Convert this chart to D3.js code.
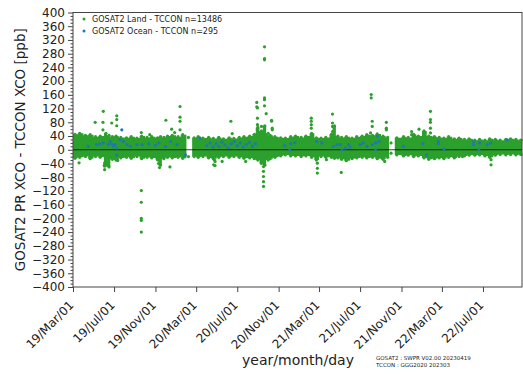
<!DOCTYPE html>
<html>
<head>
<meta charset="utf-8">
<script src="https://cdn.jsdelivr.net/npm/d3@7/dist/d3.min.js"></script>
<style>
  body { margin: 0; background: #fff; }
  svg { display: block; font-family: "DejaVu Sans", sans-serif; }
</style>
</head>
<body>
<svg id="chart" width="523" height="374"></svg>
<script>
// dense land band: upper / lower edge of the cloud of points (null = no data)
var bandDates = ["2019-03-01","2019-03-15","2019-04-01","2019-04-15","2019-05-01","2019-05-15","2019-06-01","2019-06-10","2019-06-20","2019-07-01","2019-07-15","2019-08-01","2019-08-15","2019-09-01","2019-09-15","2019-10-01","2019-10-15","2019-11-01","2019-11-10","2019-11-20","2019-12-01","2019-12-15","2020-01-01","2020-01-15","2020-02-01","2020-02-05","2020-02-18","2020-03-01","2020-03-15","2020-04-01","2020-04-15","2020-05-01","2020-05-15","2020-06-01","2020-06-15","2020-07-01","2020-07-15","2020-08-01","2020-08-15","2020-08-25","2020-09-05","2020-09-15","2020-09-25","2020-10-01","2020-10-15","2020-11-01","2020-11-15","2020-12-01","2020-12-15","2021-01-01","2021-01-15","2021-02-01","2021-02-15","2021-03-01","2021-03-15","2021-04-01","2021-04-10","2021-04-20","2021-05-01","2021-05-15","2021-06-01","2021-06-15","2021-07-01","2021-07-15","2021-08-01","2021-08-15","2021-09-01","2021-09-15","2021-09-25","2021-10-01","2021-10-12","2021-11-01","2021-11-15","2021-12-01","2021-12-15","2022-01-01","2022-01-15","2022-02-01","2022-02-15","2022-03-01","2022-03-15","2022-04-01","2022-04-15","2022-05-01","2022-05-15","2022-06-01","2022-06-15","2022-07-01","2022-07-15","2022-08-01","2022-08-15","2022-09-01","2022-09-15","2022-10-01","2022-10-15","2022-10-25"];
var bandTop = [45,48,42,44,38,40,48,42,38,40,36,35,38,34,40,36,38,35,38,36,40,42,38,44,36,null,35,38,34,36,33,36,32,35,33,36,38,40,45,65,55,70,48,42,38,35,34,38,40,36,40,48,35,34,36,45,70,40,36,38,34,38,40,44,42,46,40,36,20,null,35,38,36,45,40,55,40,38,36,34,38,32,34,30,32,28,30,28,32,30,28,30,32,30,28,28];
var bandBot = [-25,-22,-20,-26,-20,-22,-45,-50,-28,-30,-24,-22,-25,-20,-26,-22,-24,-28,-45,-26,-22,-24,-22,-25,-20,null,-20,-22,-20,-24,-26,-22,-20,-22,-20,-22,-25,-24,-26,-30,-40,-45,-30,-26,-22,-18,-15,-18,-18,-20,-18,-22,-30,-20,-22,-22,-25,-24,-28,-32,-26,-24,-22,-24,-22,-26,-28,-22,-10,null,-15,-18,-16,-20,-18,-24,-28,-26,-24,-26,-22,-24,-20,-18,-16,-16,-15,-18,-22,-16,-14,-15,-14,-15,-14,-14];

// land points outside the dense band
var landDates = ["2019-03-19","2019-05-06","2019-05-30","2019-05-29","2019-05-29","2019-06-03","2019-06-03","2019-06-03","2019-06-02","2019-06-24","2019-07-09","2019-07-09","2019-07-09","2019-07-12","2019-09-20","2019-09-20","2019-09-20","2019-09-20","2019-09-20","2019-09-20","2019-10-15","2019-11-08","2019-11-10","2019-11-13","2019-12-02","2019-12-05","2019-12-14","2020-01-13","2020-01-13","2020-01-13","2020-01-13","2019-12-19","2019-12-28","2020-04-22","2020-04-24","2020-04-26","2020-04-26","2020-05-17","2020-06-12","2020-06-16","2020-07-26","2020-08-28","2020-08-28","2020-08-30","2020-08-30","2020-08-30","2020-09-11","2020-09-20","2020-09-20","2020-09-20","2020-09-20","2020-09-20","2020-09-20","2020-09-25","2020-09-17","2020-09-17","2020-09-17","2020-09-17","2020-09-17","2020-10-11","2020-10-11","2020-10-13","2020-10-13","2021-02-06","2021-02-06","2021-02-06","2021-02-06","2021-02-24","2021-02-24","2021-02-24","2021-03-23","2021-04-10","2021-04-10","2021-04-10","2021-04-10","2021-05-06","2021-08-03","2021-08-03","2021-08-06","2021-08-06","2021-08-01","2021-09-12","2021-09-17","2021-09-17","2021-09-17","2021-12-01","2021-12-01","2021-12-23","2022-01-26","2022-01-26","2022-01-26","2022-01-26","2022-01-26","2022-05-01","2022-07-25","2022-07-25"];
var landValues = [-38,80,112,80,58,-38,-48,-58,-45,78,99,88,70,-31,50,-119,-153,-200,-206,-240,44,-30,-40,-52,86,-20,-50,126,95,83,58,60,50,-44,-29,-34,-46,-34,83,47,-34,138,125,122,92,73,68,300,266,262,151,146,128,105,-49,-63,-78,-93,-107,86,83,63,58,92,83,73,63,-39,-54,-68,-29,104,78,68,53,-66,161,151,83,68,49,-34,80,63,58,53,44,60,112,88,80,63,49,-20,-29,-44];

// ocean points
var oceanDates = ["2019-04-15","2019-05-10","2019-05-20","2019-05-30","2019-06-14","2019-06-19","2019-06-24","2019-06-29","2019-07-04","2019-07-09","2019-07-09","2019-07-19","2019-07-24","2019-07-29","2019-08-08","2019-08-18","2019-09-07","2019-09-22","2019-10-12","2019-11-01","2019-11-11","2019-12-01","2019-12-16","2020-01-04","2020-01-29","2020-03-12","2020-04-02","2020-04-11","2020-04-20","2020-04-29","2020-05-07","2020-05-16","2020-05-25","2020-06-04","2020-06-13","2020-06-22","2020-07-01","2020-07-10","2020-07-19","2020-07-28","2020-08-06","2020-08-15","2020-08-24","2020-11-19","2020-12-04","2020-12-07","2020-12-19","2021-02-22","2021-03-09","2021-04-13","2021-04-23","2021-05-03","2021-05-08","2021-05-18","2021-05-28","2021-06-01","2021-07-01","2021-07-10","2021-07-21","2021-08-06","2021-08-16","2021-08-16","2021-08-21","2021-08-26","2021-11-07","2022-01-04","2022-01-14","2022-02-18","2022-02-18","2022-03-07","2022-06-03","2022-06-03","2022-06-19","2022-06-21","2022-07-14","2022-07-24","2022-09-11"];
var oceanValues = [10,15,17,20,15,24,17,10,15,5,-15,29,58,24,15,10,15,15,17,13,20,10,24,15,-15,34,12,20,8,18,10,22,14,6,18,24,12,20,8,16,22,10,18,12,0,18,21,24,20,10,15,15,0,5,15,8,15,20,10,15,20,0,40,24,10,18,-15,24,18,2,24,15,0,20,15,20,29];

var xTicks = ["2019-03-01","2019-07-01","2019-11-01","2020-03-01","2020-07-01","2020-11-01","2021-03-01","2021-07-01","2021-11-01","2022-03-01","2022-07-01"];
var yTicks = d3.range(-400, 401, 40);
var legendLabels = ["GOSAT2 Land - TCCON n=13486", "GOSAT2 Ocean - TCCON n=295"];

var parse = d3.utcParse("%Y-%m-%d");
var green = "#2ca02c", blue = "#1f77b4";

var svg = d3.select("#chart");
var mLeft = 73, mRight = 522, mTop = 12.5, mBottom = 287;

var x = d3.scaleUtc().domain([parse("2019-03-01"), parse("2022-10-25")]).range([mLeft, mRight]);
var y = d3.scaleLinear().domain([-400, 400]).range([mBottom, mTop]);

var plot = svg.append("g");

// band of dense points
var band = bandDates.map(function(d, i) {
    return { date: parse(d), hi: bandTop[i], lo: bandBot[i] };
});
var area = d3.area()
    .defined(function(d) { return d.hi !== null; })
    .curve(d3.curveStepAfter)
    .x(function(d) { return x(d.date); })
    .y0(function(d) { return y(d.lo); })
    .y1(function(d) { return y(d.hi); });
plot.append("path").datum(band).attr("d", area).attr("fill", green);

// ragged edges of the band
var edge = band.filter(function(d) { return d.hi !== null; });
plot.selectAll(".edgeHi").data(edge).enter().append("circle")
    .attr("cx", function(d) { return x(d.date) + 2; })
    .attr("cy", function(d) { return y(d.hi); })
    .attr("r", 1.6).attr("fill", green);
plot.selectAll(".edgeLo").data(edge).enter().append("circle")
    .attr("cx", function(d) { return x(d.date) + 2; })
    .attr("cy", function(d) { return y(d.lo); })
    .attr("r", 1.6).attr("fill", green);

// outlier land points
plot.selectAll(".land").data(landDates).enter().append("circle")
    .attr("cx", function(d) { return x(parse(d)); })
    .attr("cy", function(d, i) { return y(landValues[i]); })
    .attr("r", 1.6).attr("fill", green);

// zero line
plot.append("line")
    .attr("x1", mLeft).attr("x2", mRight)
    .attr("y1", y(0)).attr("y2", y(0))
    .attr("stroke", "#000").attr("stroke-opacity", 0.75).attr("stroke-width", 1.2);

// ocean points
plot.selectAll(".ocean").data(oceanDates).enter().append("circle")
    .attr("cx", function(d) { return x(parse(d)); })
    .attr("cy", function(d, i) { return y(oceanValues[i]); })
    .attr("r", 1.6).attr("fill", blue);

// frame
svg.append("rect")
    .attr("x", mLeft).attr("y", mTop)
    .attr("width", mRight - mLeft).attr("height", mBottom - mTop)
    .attr("fill", "none").attr("stroke", "#444").attr("stroke-width", 1);

// y axis
var yAxis = d3.axisLeft(y).tickValues(yTicks).tickSize(5).tickPadding(3)
    .tickFormat(function(d) { return d < 0 ? "\u2212" + Math.abs(d) : d; });
var gy = svg.append("g").attr("transform", "translate(" + mLeft + ",0)").call(yAxis);
gy.select(".domain").remove();
gy.selectAll("text").attr("font-size", 12).attr("fill", "#222").attr("font-family", "DejaVu Sans");
gy.selectAll("line").attr("stroke", "#444");
var gyMinor = svg.append("g").attr("transform", "translate(" + mLeft + ",0)")
    .call(d3.axisLeft(y).tickValues(d3.range(-400, 401, 10).filter(function(v) { return v % 40 !== 0; })).tickSize(2.5).tickFormat(""));
gyMinor.select(".domain").remove();
gyMinor.selectAll("line").attr("stroke", "#444");

// x axis
var xAxis = d3.axisBottom(x).tickValues(xTicks.map(parse)).tickSize(5).tickPadding(3)
    .tickFormat(d3.utcFormat("%y/%b/%d"));
var gx = svg.append("g").attr("transform", "translate(0," + mBottom + ")").call(xAxis);
gx.select(".domain").remove();
gx.selectAll("line").attr("stroke", "#444");
gx.selectAll("text")
    .attr("font-size", 12).attr("fill", "#222").attr("font-family", "DejaVu Sans")
    .attr("text-anchor", "end")
    .attr("y", 0).attr("dy", "0.35em").attr("dx", 0)
    .attr("transform", "translate(-2,16) rotate(-45)");

// titles
svg.append("text")
    .attr("transform", "translate(25," + ((mTop + mBottom) / 2) + ") rotate(-90)")
    .attr("text-anchor", "middle").attr("font-size", 13.5).attr("fill", "#222")
    .text("GOSAT2 PR XCO - TCCON XCO [ppb]");
svg.append("text")
    .attr("x", 298).attr("y", 365)
    .attr("text-anchor", "middle").attr("font-size", 14).attr("fill", "#222")
    .text("year/month/day");
svg.append("text").attr("x", 376).attr("y", 360).attr("font-size", 5.5).attr("fill", "#222")
    .text("GOSAT2 : SWPR V02.00 20230419");
svg.append("text").attr("x", 376).attr("y", 367).attr("font-size", 5.5).attr("fill", "#222")
    .text("TCCON : GGG2020 202303");

// legend
var legend = svg.append("g");
[green, blue].forEach(function(c, i) {
    legend.append("circle").attr("cx", 84).attr("cy", 19 + i * 12).attr("r", 1.5).attr("fill", c);
    legend.append("text").attr("x", 92).attr("y", 19 + i * 12).attr("dy", "0.35em")
        .attr("font-size", 8).attr("fill", "#222").text(legendLabels[i]);
});
</script>
</body>
</html>
